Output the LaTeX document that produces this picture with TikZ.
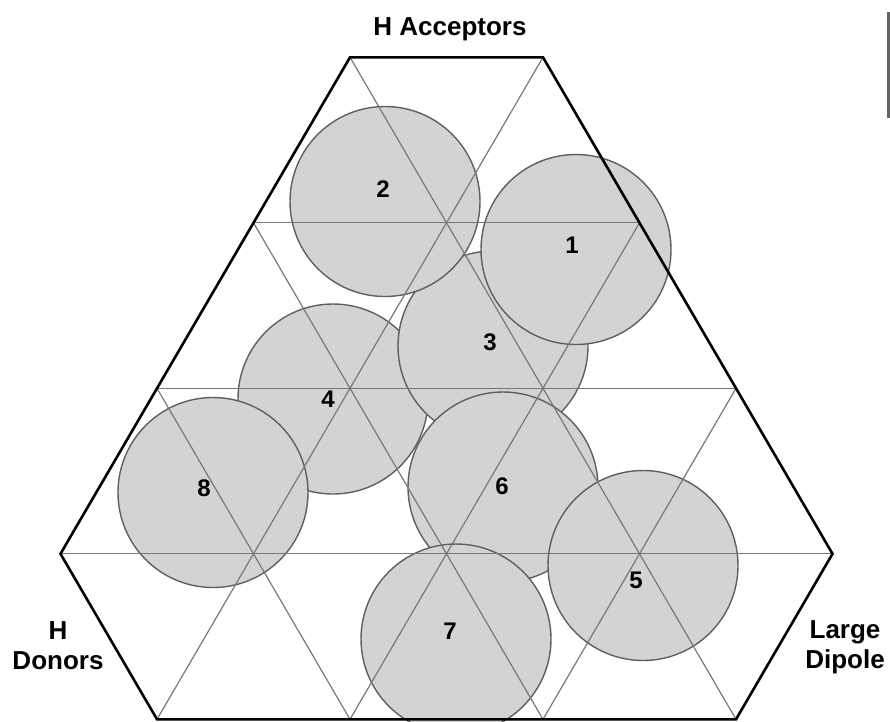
\documentclass[tikz,border=0pt]{standalone}
\usepackage{fontspec}
\setmainfont{Liberation Sans}
\definecolor{blobfill}{RGB}{211,211,214}
\definecolor{blobline}{RGB}{95,95,95}
\definecolor{gridline}{RGB}{120,120,120}
\definecolor{stray}{RGB}{100,100,100}
\begin{document}
\begin{tikzpicture}[x=1pt,y=-1pt,
  blob/.style={circle,draw=blobline,fill=blobfill,line width=1.4pt,minimum size=190pt,inner sep=0pt},
  gridln/.style={draw=gridline,line width=1.2pt},
  border/.style={draw=black,line width=2.6pt,line join=miter},
  num/.style={font=\fontsize{24}{24}\selectfont\bfseries,inner sep=0pt},
  axislbl/.style={font=\fontsize{26}{30}\selectfont\bfseries,inner sep=0pt,align=center}]
\useasboundingbox (0,0) rectangle (890,721);
% lattice rows
\def\ra{57.3}\def\rb{222.8}\def\rc{388.3}\def\rd{553.8}\def\re{719.3}
\coordinate (a1) at (350,\ra);   \coordinate (a2) at (543,\ra);
\coordinate (b1) at (253.5,\rb); \coordinate (b2) at (446.5,\rb); \coordinate (b3) at (639.5,\rb);
\coordinate (c1) at (157,\rc);   \coordinate (c2) at (350,\rc);   \coordinate (c3) at (543,\rc); \coordinate (c4) at (736,\rc);
\coordinate (d1) at (60.5,\rd);  \coordinate (d2) at (253.5,\rd); \coordinate (d3) at (446.5,\rd); \coordinate (d4) at (639.5,\rd); \coordinate (d5) at (832.5,\rd);
\coordinate (e1) at (157,\re);   \coordinate (e2) at (350,\re);   \coordinate (e3) at (543,\re); \coordinate (e4) at (736,\re);
% circles (stacking order)
\node[blob] (k4) at (333,399) {};
\node[blob] (k3) at (493,346) {};
\node[blob] (k6) at (503,487) {};
\node[blob] (k1) at (576,249.5) {};
\node[blob] (k2) at (385,201.5) {};
\node[blob] (k5) at (643,565.5) {};
\node[blob] (k7) at (456,639) {};
\node[blob] (k8) at (213,492.5) {};
% grid lines
\draw[gridln] (b1) -- (b3);
\draw[gridln] (c1) -- (c4);
\draw[gridln] (d1) -- (d5);
\draw[gridln] (a1) -- (e4);
\draw[gridln] (b1) -- (e3);
\draw[gridln] (c1) -- (e2);
\draw[gridln] (a2) -- (e1);
\draw[gridln] (b3) -- (e2);
\draw[gridln] (c4) -- (e3);
% boundary
\draw[border] (a1) -- (a2) -- (d5) -- (e4) -- (e1) -- (d1) -- cycle;
% numbers
\node[num] (n1) at (572,245) {1};
\node[num] (n2) at (383,189) {2};
\node[num] (n3) at (490,342) {3};
\node[num] (n4) at (328,399) {4};
\node[num] (n5) at (636,580) {5};
\node[num] (n6) at (502,486) {6};
\node[num] (n7) at (450,631) {7};
\node[num] (n8) at (204,488) {8};
% axis labels
\node[axislbl] (acc) at (450,29) {H Acceptors};
\node[axislbl] (don) at (58,646) {H\\Donors};
\node[axislbl] (dip) at (845,647) {Large\\Dipole};
% stray edge mark
\coordinate (s1) at (888.5,12); \coordinate (s2) at (888.5,118);
\draw[draw=stray,line width=3pt] (s1) -- (s2);
\end{tikzpicture}
\end{document}
